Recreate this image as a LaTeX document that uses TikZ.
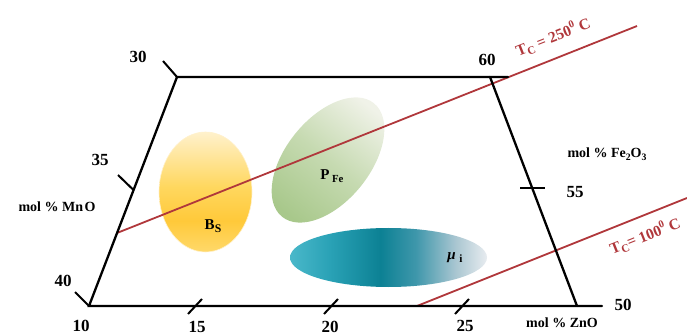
\documentclass[tikz,border=0pt]{standalone}
\usepackage{fontspec}
\setmainfont{Liberation Serif}
\usetikzlibrary{calc}
\definecolor{tcred}{HTML}{B0373B}
\definecolor{tA}{HTML}{4AB8CA}
\definecolor{tB}{HTML}{2AA2B6}
\definecolor{tC}{HTML}{0C8194}
\definecolor{tD}{HTML}{3F97AB}
\definecolor{tE}{HTML}{A9C6D1}
\definecolor{tF}{HTML}{E8ECF0}
\definecolor{yA}{HTML}{FFD96A}
\definecolor{yB}{HTML}{FFC93A}
\definecolor{yC}{HTML}{FFD75E}
\definecolor{yD}{HTML}{FFF1CC}
\definecolor{gA}{HTML}{A8C88B}
\definecolor{gB}{HTML}{C6DAB1}
\definecolor{gC}{HTML}{F0F2E8}
\pgfdeclarehorizontalshading{tealsh}{100bp}{color(0bp)=(tA); color(25bp)=(tA); color(35bp)=(tB); color(48bp)=(tC); color(57bp)=(tD); color(67bp)=(tE); color(75bp)=(tF); color(100bp)=(tF)}
\pgfdeclareverticalshading{yellowsh}{100bp}{color(0bp)=(yA); color(25bp)=(yA); color(38bp)=(yB); color(52bp)=(yC); color(75bp)=(yD); color(100bp)=(yD)}
\newcommand\sbx[2][0.72]{\raisebox{-0.45ex}{\scalebox{#1}{#2}}}
\newcommand\spx[1]{\raisebox{0.95ex}{\scalebox{0.68}{#1}}}
\tikzset{
  axisline/.style={line width=2.3pt, line cap=round, line join=miter},
  tickline/.style={line width=2pt},
  redline/.style={tcred, line width=1.8pt},
  numlbl/.style={font=\fontsize{17}{17}\selectfont\bfseries, inner sep=0pt},
  axislbl/.style={font=\fontsize{14}{14}\selectfont\bfseries, inner sep=0pt},
  tclabel/.style={font=\fontsize{15.5}{15.5}\selectfont\bfseries, text=tcred, inner sep=0pt},
  regionlbl/.style={font=\fontsize{15}{15}\selectfont\bfseries, inner sep=0pt}
}
\begin{document}
\begin{tikzpicture}[x=1pt,y=-1pt]
\useasboundingbox (0,0) rectangle (687,336);
% corners
\coordinate (TL) at (177,77);
\coordinate (TR) at (490,77);
\coordinate (TE) at (508,77);
\coordinate (BL) at (89,306);
\coordinate (BR) at (577,306);
\coordinate (BE) at (602,306);
% ellipses
\shade[shading=yellowsh, draw=yD, line width=0.6pt] (205.5,192) ellipse [x radius=46.5, y radius=60];
\shade[top color=gC, bottom color=gA, middle color=gB, shading angle=-39, rotate around={51:(328,160)}] (328,160) ellipse [x radius=73, y radius=42];
\shade[shading=tealsh] (388.5,257.5) ellipse [x radius=98.5, y radius=29.5];
% red lines
\coordinate (r1a) at (117,233);
\coordinate (r1b) at (637,26);
\coordinate (r2a) at (417,306);
\coordinate (r2b) at (687,198);
\draw[redline] (r1a) -- (r1b);
\draw[redline] (r2a) -- (r2b);
% axes
\draw[axisline] (BE) -- (BL) -- (TL) -- (TE);
\draw[axisline] (TR) -- (BR);
% ticks
\coordinate (t30o) at (163,61);
\coordinate (t35i) at (133.5,190);
\coordinate (t35o) at (118,175);
\coordinate (t40o) at (75,292);
\draw[tickline] (TL) -- (t30o);
\draw[tickline] (t35i) -- (t35o);
\draw[tickline] (BL) -- (t40o);
\coordinate (t15a) at (188,314); \coordinate (t15b) at (202,299);
\coordinate (t20a) at (324,314); \coordinate (t20b) at (338,299);
\coordinate (t25a) at (455,314); \coordinate (t25b) at (469,299);
\draw[tickline] (t15a) -- (t15b);
\draw[tickline] (t20a) -- (t20b);
\draw[tickline] (t25a) -- (t25b);
\coordinate (t55a) at (520,188); \coordinate (t55b) at (545,188);
\draw[tickline] (t55a) -- (t55b);
% numbers
\node[numlbl] (n30) at (138,57) {30};
\node[numlbl] (n35) at (100,160) {35};
\node[numlbl] (n40) at (63,281) {40};
\node[numlbl] (n10) at (81,326) {10};
\node[numlbl] (n15) at (197,327) {15};
\node[numlbl] (n20) at (330,327) {20};
\node[numlbl] (n25) at (465,326) {25};
\node[numlbl] (n50) at (623,305) {50};
\node[numlbl] (n55) at (575,192) {55};
\node[numlbl] (n60) at (487,60) {60};
% axis labels
\node[axislbl] (mno) at (57,207) {mol \% Mn\kern1.5pt O};
\node[axislbl] (fe) at (607,154) {mol \% Fe\sbx[0.7]{2}O\sbx[0.7]{3}};
\node[axislbl] (zno) at (562,323) {mol \% ZnO};
% Tc labels
\node[tclabel, rotate=21.6] (tc250) at (553,37) {T\sbx{C} = 250\spx{0} C};
\node[tclabel, rotate=21.8] (tc100) at (645,236) {T\sbx{C}= 100\spx{0} C};
% region labels
\node[regionlbl] (bs) at (213,226) {B\sbx[0.78]{S}};
\node[regionlbl] (pfe) at (332,176) {P\,\sbx[0.72]{Fe}};
\node[regionlbl] (mui) at (455,258) {\textit{μ} \sbx[0.75]{i}};
\end{tikzpicture}
\end{document}
